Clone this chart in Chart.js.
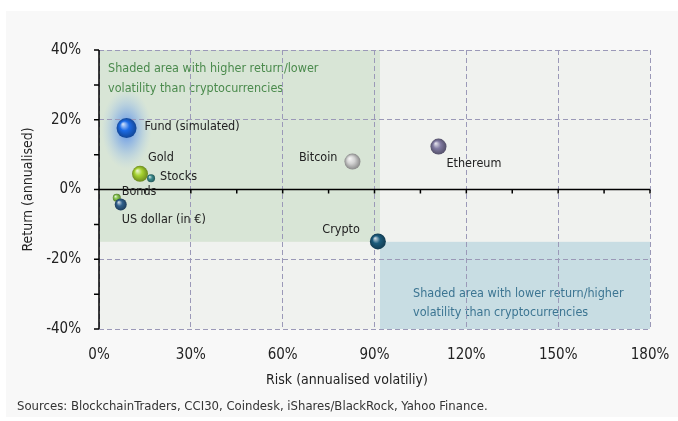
<!DOCTYPE html>
<html>
<head>
<meta charset="utf-8">
<script src="https://cdn.jsdelivr.net/npm/chart.js@4.4.1/dist/chart.umd.min.js"></script>
<style>
  html, body { margin: 0; padding: 0; background: #fff; }
</style>
</head>
<body>
<canvas id="myChart" width="678" height="421"></canvas>
<script>
// data
var names = ['Fund (simulated)', 'Gold', 'Stocks', 'Bonds', 'US dollar (in €)', 'Bitcoin', 'Ethereum', 'Crypto'];
var risk = [9.0, 13.4, 17.0, 5.8, 7.1, 82.8, 110.9, 91.1];
var ret = [17.6, 4.5, 3.2, -2.4, -4.3, 8.0, 12.3, -14.9];
var xTicks = [0, 30, 60, 90, 120, 150, 180];
var yTicks = [-40, -20, 0, 20, 40];
// shaded areas: [riskFrom, riskTo, returnFrom, returnTo]
var greenArea = [0, 91.8, -15, 40];
var blueArea = [91.8, 180, -40, -15];
var greenText = ['Shaded area with higher return/lower', 'volatility than cryptocurrencies'];
var blueText = ['Shaded area with lower return/higher', 'volatility than cryptocurrencies'];
var sourceText = 'Sources: BlockchainTraders, CCI30, Coindesk, iShares/BlackRock, Yahoo Finance.';

// styling
var radius = [10, 8, 4, 4, 6, 8, 8, 8];
var colors = ['#1c6be6', '#a6d230', '#3a8a8c', '#84c44c', '#30608c', '#d2d2d2', '#817ba2', '#1c5c7c'];
// label offsets from point: [dx, dy, align]
var labelPos = [[18, -1, 'left'], [8, -16, 'left'], [9, -2, 'left'], [5, -6, 'left'],
                [1, 15, 'left'], [-15, -4, 'right'], [8, 17, 'left'], [-18, -12, 'right']];
var FONT = "'Liberation Sans Narrow', 'Arial Narrow', 'DejaVu Sans Condensed', sans-serif";

function shade(hex, amt) {
  var n = parseInt(hex.slice(1), 16);
  var r = n >> 16, g = (n >> 8) & 255, b = n & 255;
  function f(c) {
    c = amt > 0 ? c + (255 - c) * amt : c * (1 + amt);
    return Math.round(c);
  }
  return 'rgb(' + f(r) + ',' + f(g) + ',' + f(b) + ')';
}

function sphere(c) {
  var i = c.dataIndex;
  var chart = c.chart;
  var sx = chart.scales.x, sy = chart.scales.y;
  if (!sx || !sy) return colors[i];
  var x = sx.getPixelForValue(risk[i]), y = sy.getPixelForValue(ret[i]);
  if (!isFinite(x) || !isFinite(y)) return colors[i];
  var r = radius[i];
  var g = chart.ctx.createRadialGradient(x - r * 0.35, y - r * 0.4, r * 0.05, x, y, r);
  g.addColorStop(0, shade(colors[i], 0.75));
  g.addColorStop(0.45, colors[i]);
  g.addColorStop(1, shade(colors[i], -0.35));
  return g;
}

var points = risk.map(function (v, i) { return {x: v, y: ret[i]}; });

var decor = {
  id: 'decor',
  beforeDraw: function (chart) {
    var ctx = chart.ctx, a = chart.chartArea;
    var sx = chart.scales.x, sy = chart.scales.y;
    ctx.save();
    ctx.fillStyle = '#ffffff';
    ctx.fillRect(0, 0, chart.width, chart.height);
    ctx.fillStyle = '#f8f8f8';
    ctx.fillRect(6, 11, chart.width - 6, chart.height - 15);
    ctx.fillStyle = '#f0f2ef';
    ctx.fillRect(a.left, a.top, a.right - a.left, a.bottom - a.top);

    function area(arr, col) {
      var x0 = sx.getPixelForValue(arr[0]), x1 = sx.getPixelForValue(arr[1]);
      var y0 = sy.getPixelForValue(arr[3]), y1 = sy.getPixelForValue(arr[2]);
      ctx.fillStyle = col;
      ctx.fillRect(x0, y0, x1 - x0, y1 - y0);
      return {x: x0, y: y0};
    }
    var gp = area(greenArea, '#d8e5d6');
    var bp = area(blueArea, '#c8dde3');

    ctx.font = '12.5px ' + FONT;
    ctx.textBaseline = 'middle';
    ctx.textAlign = 'left';
    ctx.fillStyle = '#4a8a4c';
    greenText.forEach(function (t, k) { ctx.fillText(t, gp.x + 9, gp.y + 19 + k * 20); });
    ctx.fillStyle = '#3c7592';
    blueText.forEach(function (t, k) { ctx.fillText(t, bp.x + 33, bp.y + 52 + k * 19); });

    // glow behind the fund
    var fx = sx.getPixelForValue(risk[0]), fy = sy.getPixelForValue(ret[0]);
    ctx.translate(fx, fy + 1);
    ctx.scale(1, 1.6);
    var g = ctx.createRadialGradient(0, 0, 0, 0, 0, 25);
    g.addColorStop(0, 'rgba(30,100,240,0.7)');
    g.addColorStop(0.5, 'rgba(80,140,240,0.35)');
    g.addColorStop(1, 'rgba(150,190,245,0)');
    ctx.fillStyle = g;
    ctx.beginPath();
    ctx.arc(0, 0, 25, 0, Math.PI * 2);
    ctx.fill();
    ctx.restore();
  },
  beforeDatasetsDraw: function (chart) {
    var ctx = chart.ctx, a = chart.chartArea;
    var sx = chart.scales.x, sy = chart.scales.y;
    ctx.save();
    ctx.strokeStyle = '#000';
    ctx.lineWidth = 1.5;
    // y axis with ticks every 10%
    ctx.beginPath();
    ctx.moveTo(a.left, a.top);
    ctx.lineTo(a.left, a.bottom);
    for (var v = sy.min; v <= sy.max; v += 10) {
      var py = sy.getPixelForValue(v);
      ctx.moveTo(a.left - 5, py);
      ctx.lineTo(a.left, py);
    }
    // zero line with ticks every 15%
    var zy = sy.getPixelForValue(0);
    ctx.moveTo(a.left - 5, zy);
    ctx.lineTo(a.right, zy);
    for (var u = sx.min; u <= sx.max; u += 15) {
      var px = sx.getPixelForValue(u);
      ctx.moveTo(px, zy);
      ctx.lineTo(px, zy + 4);
    }
    ctx.stroke();
    ctx.restore();
  },
  afterDatasetsDraw: function (chart) {
    var ctx = chart.ctx;
    var meta = chart.getDatasetMeta(0);
    ctx.save();
    ctx.font = '12.5px ' + FONT;
    ctx.fillStyle = '#222';
    ctx.textBaseline = 'middle';
    meta.data.forEach(function (el, i) {
      var p = labelPos[i];
      ctx.textAlign = p[2];
      ctx.fillText(names[i], el.x + p[0], el.y + p[1]);
    });
    // x axis title and source line
    ctx.font = '14px ' + FONT;
    ctx.textAlign = 'center';
    ctx.fillText('Risk (annualised volatiliy)', 347, 380);
    ctx.font = '13px ' + FONT;
    ctx.textAlign = 'left';
    ctx.fillStyle = '#333';
    ctx.fillText(sourceText, 17, 407);
    ctx.restore();
  }
};

var gridStyle = {
  color: '#9b99b8',
  lineWidth: 1,
  drawTicks: false
};

var ctx = document.getElementById('myChart').getContext('2d');
var chart = new Chart(ctx, {
  type: 'scatter',
  data: {
    datasets: [{
      label: 'Assets',
      data: points,
      pointRadius: radius,
      pointHoverRadius: radius,
      pointBorderWidth: 0,
      backgroundColor: sphere,
      borderColor: 'rgba(0,0,0,0)'
    }]
  },
  options: {
    responsive: false,
    animation: false,
    events: [],
    layout: { padding: { left: 0, top: 50, right: 28, bottom: 0 } },
    plugins: {
      legend: { display: false },
      tooltip: { enabled: false }
    },
    scales: {
      x: {
        type: 'linear',
        min: xTicks[0],
        max: xTicks[xTicks.length - 1],
        afterBuildTicks: function (s) { s.ticks = xTicks.map(function (v) { return {value: v}; }); },
        afterFit: function (s) { s.height = 92; s.paddingLeft = 0; s.paddingRight = 0; },
        grid: gridStyle,
        border: { display: false, dash: [5, 3] },
        ticks: {
          padding: 17,
          color: '#222',
          font: { family: FONT, size: 15 },
          callback: function (v) { return v + '%'; }
        }
      },
      y: {
        type: 'linear',
        min: yTicks[0],
        max: yTicks[yTicks.length - 1],
        afterBuildTicks: function (s) { s.ticks = yTicks.map(function (v) { return {value: v}; }); },
        afterFit: function (s) { s.width = 99; },
        grid: gridStyle,
        border: { display: false, dash: [5, 3] },
        ticks: {
          padding: 18,
          color: '#222',
          font: { family: FONT, size: 15 },
          callback: function (v) { return v + '%'; }
        },
        title: {
          display: true,
          text: 'Return (annualised)',
          color: '#222',
          font: { family: FONT, size: 14 },
          padding: { top: 20, bottom: 0 }
        }
      }
    }
  },
  plugins: [decor]
});
</script>
</body>
</html>
